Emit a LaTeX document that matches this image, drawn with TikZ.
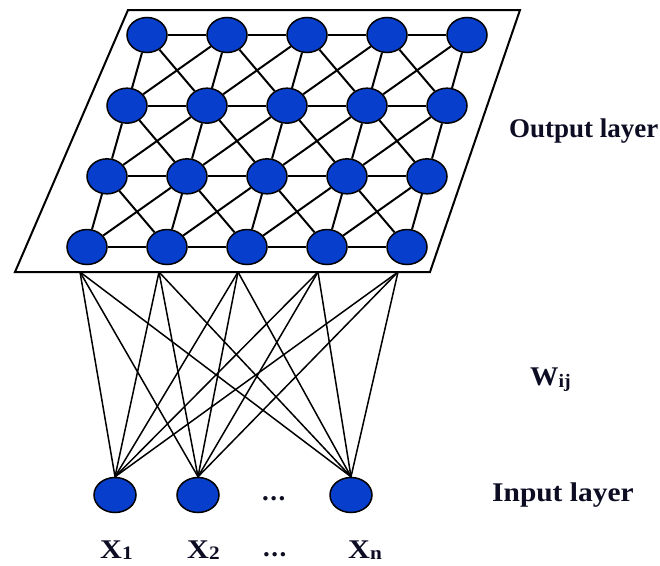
\documentclass[tikz,border=0pt]{standalone}
\usepackage{fontspec}
\setmainfont{Liberation Serif}
\usetikzlibrary{shapes.geometric}
\definecolor{nodeblue}{RGB}{8,62,204}
\definecolor{txt}{RGB}{12,12,35}
\begin{document}
\begin{tikzpicture}[x=1pt,y=-1pt,
  unit/.style={ellipse, draw=black, line width=1.5pt, fill=nodeblue,
               minimum width=40pt, minimum height=35pt, inner sep=0pt},
  gridline/.style={line width=2pt},
  wline/.style={line width=1.5pt},
  lbl/.style={font=\fontsize{27}{27}\selectfont\bfseries, text=txt, inner sep=0pt, anchor=base west}]
\useasboundingbox (0,0) rectangle (660,565);
% output plane
\draw[line width=2pt] (128,10) -- (520,10) -- (430,272) -- (15,272) -- cycle;
% output grid nodes
\foreach \r in {1,...,4}
  \foreach \c in {1,...,5}
    \node[unit] (n-\r-\c) at ({147+80*(\c-1)-20*(\r-1)}, {35+70.67*(\r-1)}) {};
% horizontal links
\foreach \r in {1,...,4}
  \foreach \c in {1,...,4} {
    \pgfmathtruncatemacro{\cn}{\c+1}
    \draw[gridline] (n-\r-\c) -- (n-\r-\cn);
  }
% vertical (steep) links
\foreach \r in {1,2,3}
  \foreach \c in {1,...,5} {
    \pgfmathtruncatemacro{\rn}{\r+1}
    \draw[gridline] (n-\r-\c) -- (n-\rn-\c);
  }
% crossing diagonals
\foreach \r in {1,2,3}
  \foreach \c in {1,...,4} {
    \pgfmathtruncatemacro{\rn}{\r+1}
    \pgfmathtruncatemacro{\cn}{\c+1}
    \draw[gridline] (n-\r-\c) -- (n-\rn-\cn);
    \draw[gridline] (n-\r-\cn) -- (n-\rn-\c);
  }
% input nodes
\node[unit, minimum width=42pt] (x1) at (115,495) {};
\node[unit, minimum width=42pt] (x2) at (198,495) {};
\node[unit, minimum width=42pt] (xn) at (351,495) {};
% attachment points on the plane's lower edge
\coordinate (b1) at (80,272);
\coordinate (b2) at (159,272);
\coordinate (b3) at (238,272);
\coordinate (b4) at (318,272);
\coordinate (b5) at (398,272);
\foreach \i in {x1,x2,xn}
  \foreach \k in {1,...,5}
    \draw[wline] (\i.north) -- (b\k);
% labels
\node[lbl] (outlbl) at (509,137) {Output layer};
\node[lbl] (wlbl) at (530,385) {\scalebox{1.05}[1]{W\raisebox{-2pt}{\fontsize{19}{19}\selectfont ij}}};
\node[lbl] (inlbl) at (492,501) {\scalebox{1.09}[1]{Input layer}};
\node[lbl] (dots1) at (262,500) {.\hspace{1.5pt}.\hspace{1.5pt}.};
\node[lbl] (lx1) at (100,558) {\scalebox{1.12}[1]{X\raisebox{-1pt}{\fontsize{19}{19}\selectfont 1}}};
\node[lbl] (lx2) at (187,558) {\scalebox{1.12}[1]{X\raisebox{-1pt}{\fontsize{19}{19}\selectfont 2}}};
\node[lbl] (dots2) at (263,556) {.\hspace{1.5pt}.\hspace{1.5pt}.};
\node[lbl] (lxn) at (348,558) {\scalebox{1.12}[1]{X\raisebox{-1pt}{\fontsize{19}{19}\selectfont n}}};
\end{tikzpicture}
\end{document}
